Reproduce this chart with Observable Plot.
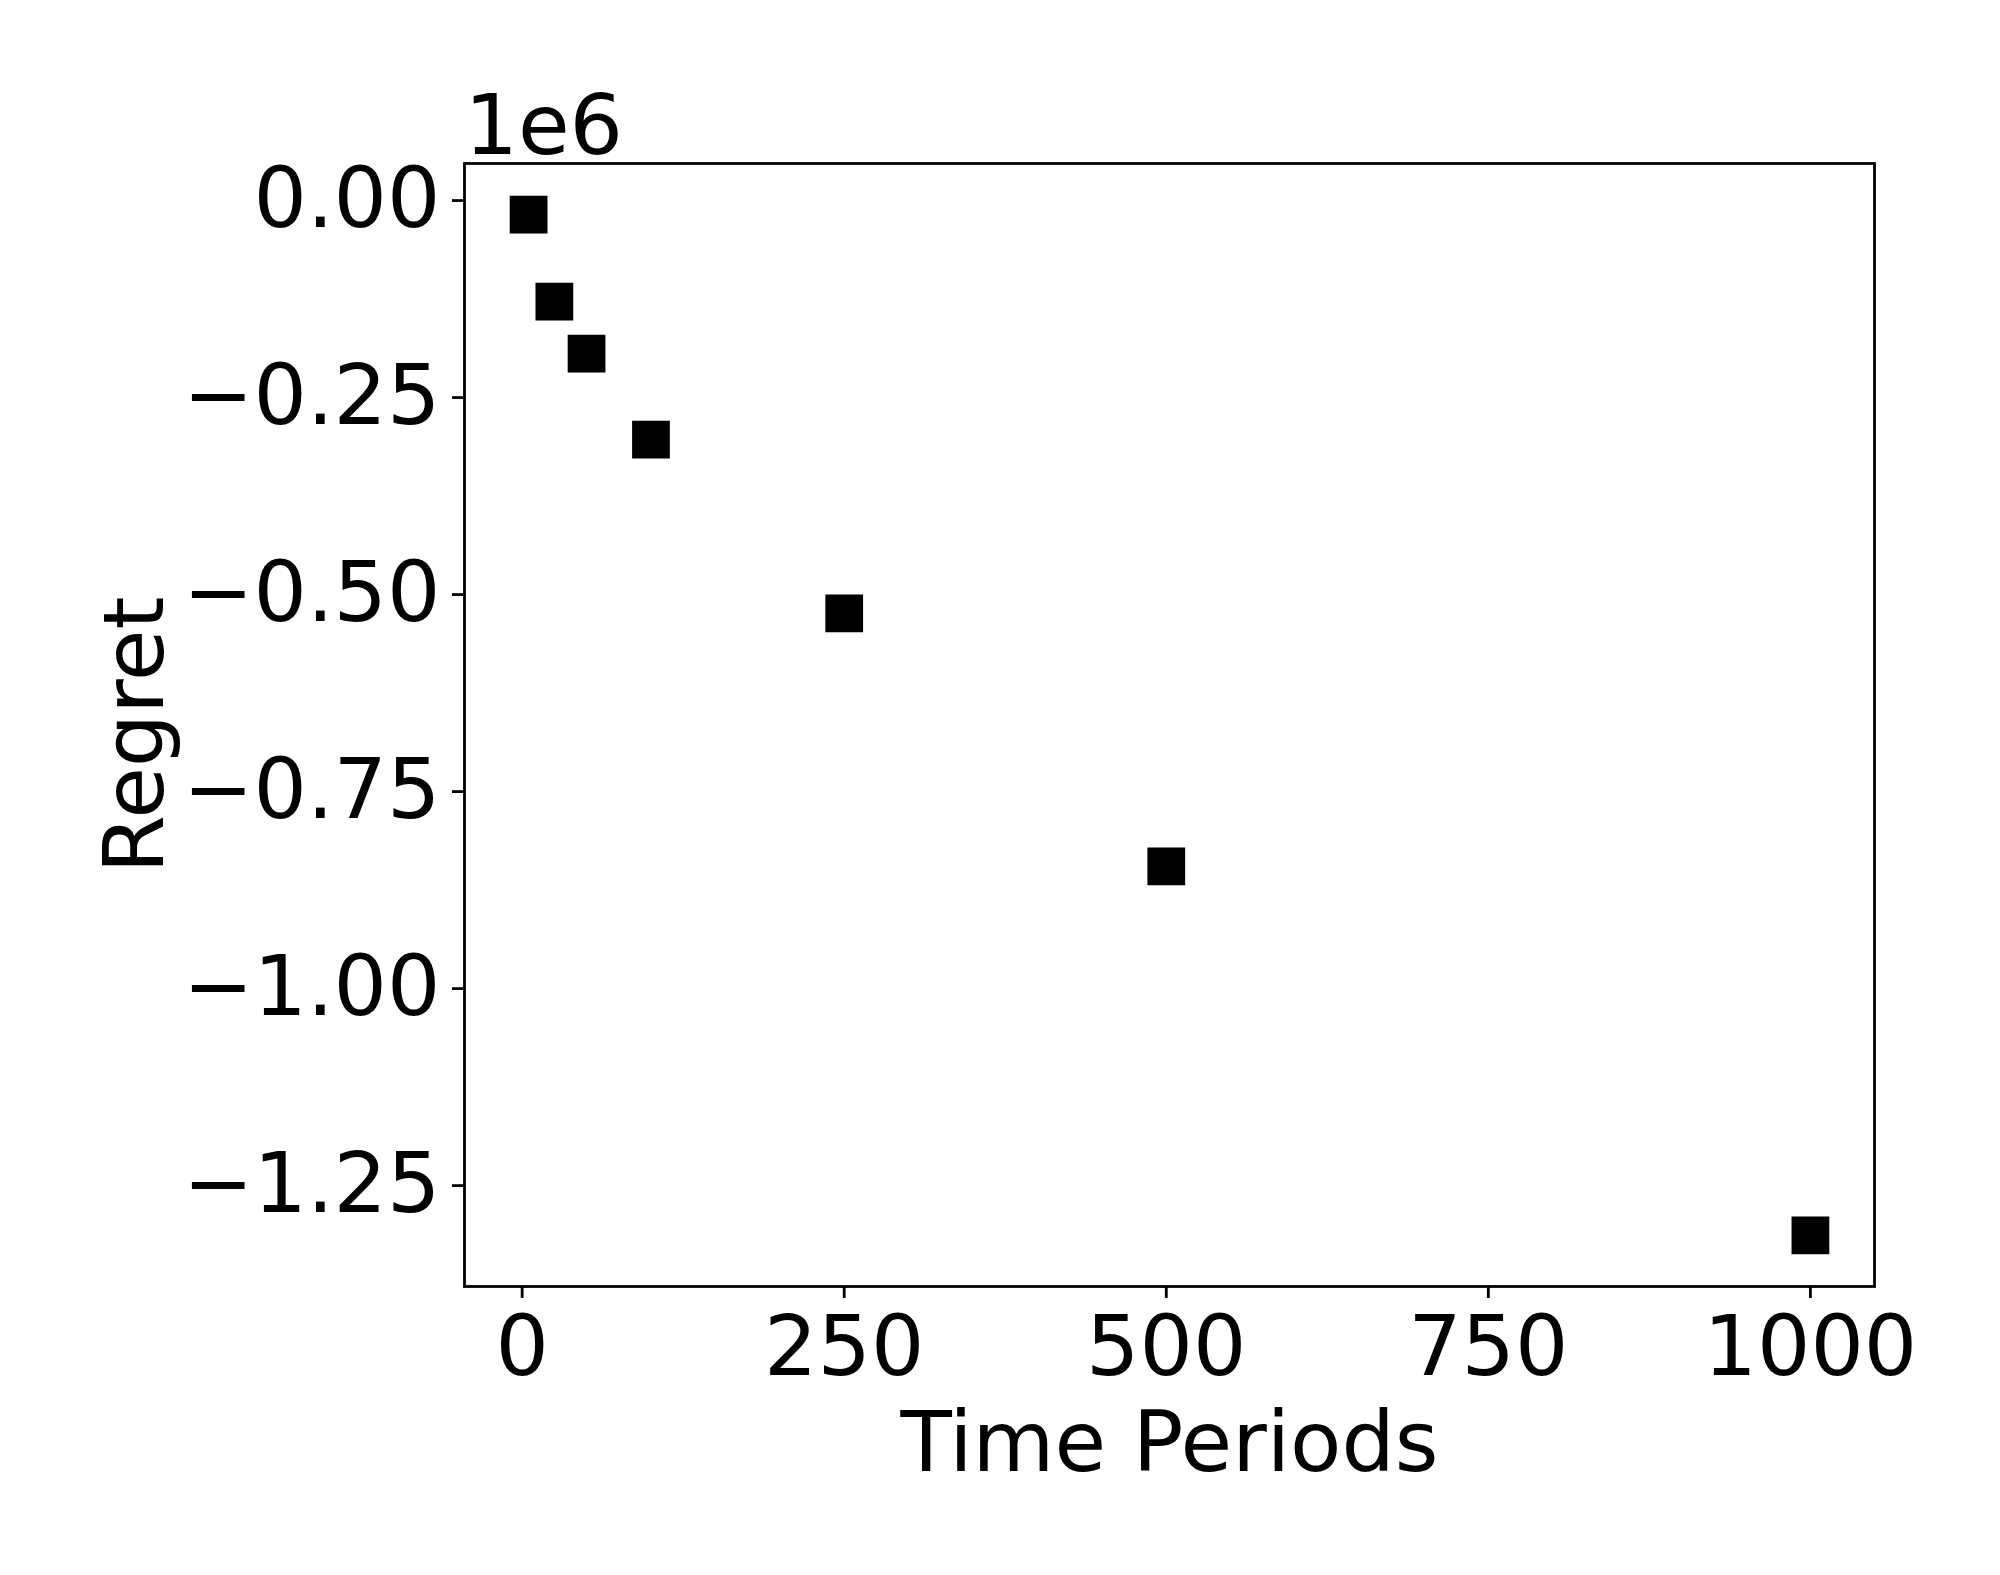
<!DOCTYPE html>
<html>
<head>
<meta charset="utf-8">
<script src="https://cdn.jsdelivr.net/npm/d3@7"></script>
<script src="https://cdn.jsdelivr.net/npm/@observablehq/plot@0.6"></script>
<style>
  html, body { margin: 0; padding: 0; background: #fff; }
  #chart svg { display: block; }
</style>
</head>
<body>
<div id="chart"></div>
<script>
// Data
const timePeriods = [5, 25, 50, 100, 250, 500, 1000];
const regret = [-20300, -130700, -196700, -305800, -526500, -847600, -1315800];
const xTicks = [0, 250, 500, 750, 1000];
const yTicks = [0, -250000, -500000, -750000, -1000000, -1250000];
const xLabel = "Time Periods";
const yLabel = "Regret";
const offsetLabel = "1e6";

const data = timePeriods.map((t, i) => ({t, r: regret[i]}));

// matplotlib-like 5% margins
function padded(vals) {
  const [a, b] = d3.extent(vals);
  const m = (b - a) * 0.05;
  return [a - m, b + m];
}

const FONT = "DejaVu Sans";
const FS = 84;

const chart = Plot.plot({
  width: 2000,
  height: 1575,
  marginLeft: 464,
  marginRight: 126,
  marginTop: 163,
  marginBottom: 289,
  style: {fontFamily: FONT, background: "#fff", color: "#000"},
  x: {domain: padded(timePeriods)},
  y: {domain: padded(regret)},
  marks: [
    Plot.axisX(xTicks, {
      tickSize: 12, tickPadding: 17, strokeWidth: 2.8,
      fontSize: FS, label: null, tickFormat: d3.format("d")
    }),
    Plot.axisY(yTicks, {
      tickSize: 12, tickPadding: 12, strokeWidth: 2.8, dy: 2,
      fontSize: FS, label: null, tickFormat: d => d3.format(".2f")(d / 1e6)
    }),
    Plot.frame({stroke: "#000", strokeWidth: 2.8}),
    Plot.dot(data, {x: "t", y: "r", symbol: "square", r: 21.3, fill: "#000", stroke: "none"}),
    Plot.text([xLabel], {frameAnchor: "bottom", lineAnchor: "bottom", dy: 184, fontSize: FS, fill: "#000"}),
    Plot.text([yLabel], {frameAnchor: "left", lineAnchor: "bottom", textAnchor: "middle", rotate: -90, dx: -302, dy: 10, fontSize: FS, fill: "#000"}),
    Plot.text([offsetLabel], {frameAnchor: "top-left", lineAnchor: "bottom", textAnchor: "start", dy: -10, fontSize: FS, fill: "#000"})
  ]
});
document.getElementById("chart").appendChild(chart);
</script>
</body>
</html>
